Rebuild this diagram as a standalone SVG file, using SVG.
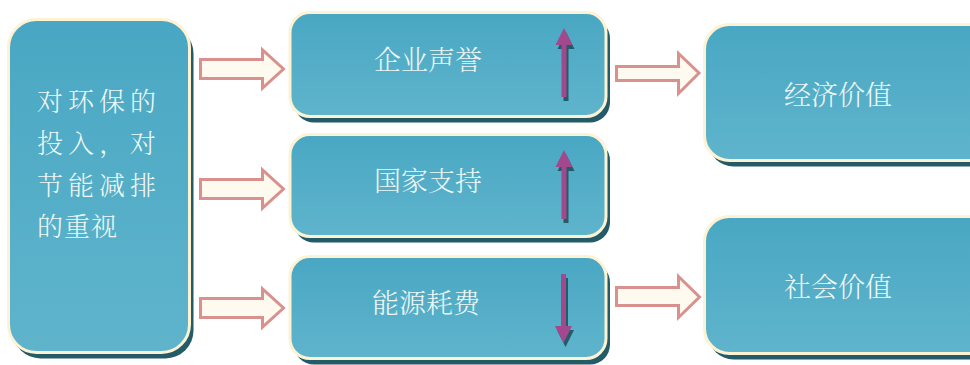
<svg xmlns="http://www.w3.org/2000/svg" width="970" height="365" viewBox="0 0 970 365">
<defs>
<linearGradient id="g" x1="0" y1="0" x2="0" y2="1">
<stop offset="0" stop-color="#49a7c3"/>
<stop offset="1" stop-color="#5fb4cc"/>
</linearGradient>
<path id="upArrow" d="M0,0 L8.5,17 H2.5 V69 H-2.5 V17 H-8.5 Z"/>
<style>
.box{fill:url(#g);stroke:#fdf2d2;stroke-width:3}
.shadow{fill:#235b69}
.txt{font-family:"Noto Serif CJK SC","Noto Sans CJK SC","Noto Sans CJK TC",sans-serif;font-weight:300;fill:#eef7f5;text-anchor:middle}
.ltxt{font-family:"Noto Serif CJK SC","Noto Sans CJK SC","Noto Sans CJK TC",sans-serif;font-weight:300;fill:#eef7f5;font-size:26px}
.conn{fill:#fffaf0;stroke:#d9918e;stroke-width:3;stroke-linejoin:miter}
.pa{fill:#a2488c}
.ps{fill:#235b69}
</style>
</defs>
<rect width="970" height="365" fill="#ffffff"/>

<g id="node-input">
<rect class="shadow" x="12.5" y="25.5" width="181" height="333" rx="28"/>
<rect class="box" x="8.5" y="19.5" width="181" height="333" rx="28"/>
<text class="ltxt" x="37" y="111" letter-spacing="5">对环保的</text>
<text class="ltxt" x="37" y="153" letter-spacing="5">投入，对</text>
<text class="ltxt" x="37" y="194.5" letter-spacing="5">节能减排</text>
<text class="ltxt" x="37" y="235.5" letter-spacing="1">的重视</text>
</g>

<g id="node-reputation">
<rect class="shadow" x="294" y="18.5" width="316" height="104" rx="20"/>
<rect class="box" x="290" y="12.5" width="316" height="104" rx="20"/>
<text class="txt" x="428" y="69.5" font-size="27">企业声誉</text>
<use href="#upArrow" class="ps" x="566" y="32"/>
<use href="#upArrow" class="pa" x="564" y="28"/>
</g>

<g id="node-support">
<rect class="shadow" x="294" y="140.5" width="316" height="102" rx="20"/>
<rect class="box" x="290" y="134.5" width="316" height="102" rx="20"/>
<text class="txt" x="428" y="190.5" font-size="27">国家支持</text>
<use href="#upArrow" class="ps" x="566" y="154"/>
<use href="#upArrow" class="pa" x="564" y="150"/>
</g>

<g id="node-energy">
<rect class="shadow" x="294" y="262.5" width="316" height="102" rx="20"/>
<rect class="box" x="290" y="256.5" width="316" height="102" rx="20"/>
<text class="txt" x="426" y="312.5" font-size="27">能源耗费</text>
<use href="#upArrow" class="ps" transform="translate(565.5,347) scale(1,-1)"/>
<use href="#upArrow" class="pa" transform="translate(563.5,343) scale(1,-1)"/>
</g>

<g id="node-economic">
<rect class="shadow" x="708.5" y="30.5" width="300" height="136" rx="25"/>
<rect class="box" x="704.5" y="24.5" width="300" height="136" rx="25"/>
<text class="txt" x="838" y="104.5" font-size="27">经济价值</text>
</g>

<g id="node-social">
<rect class="shadow" x="708.5" y="222.5" width="300" height="137" rx="25"/>
<rect class="box" x="704.5" y="216.5" width="300" height="137" rx="25"/>
<text class="txt" x="838" y="296.5" font-size="27">社会价值</text>
</g>

<g id="connectors">
<path class="conn" d="M200.5,59.5 H262.5 V50 L283.5,69 L262.5,88 V78.5 H200.5 Z"/>
<path class="conn" d="M200.5,179.5 H262.5 V170 L283.5,189 L262.5,208 V198.5 H200.5 Z"/>
<path class="conn" d="M200.5,298.5 H262.5 V289 L283.5,308 L262.5,327 V317.5 H200.5 Z"/>
<path class="conn" d="M616.5,66.5 H678.5 V53.5 L699,73 L678.5,93.5 V80.5 H616.5 Z"/>
<path class="conn" d="M616.5,287.5 H678.5 V276.5 L699.5,297 L678.5,317.5 V305.5 H616.5 Z"/>
</g>
</svg>
